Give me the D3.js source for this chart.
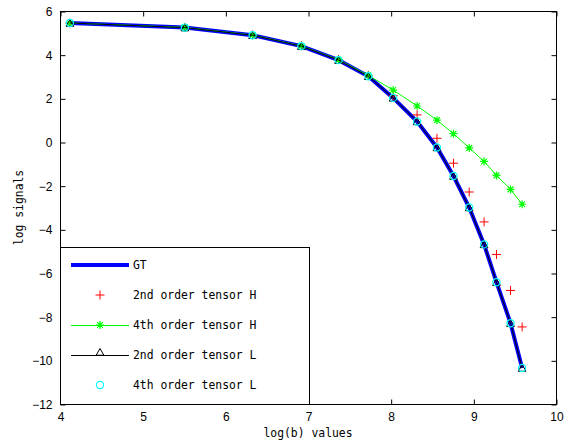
<!DOCTYPE html>
<html>
<head>
<meta charset="utf-8">
<script src="https://cdn.jsdelivr.net/npm/d3@7"></script>
<style>
  html, body { margin: 0; padding: 0; background: #fff; }
  svg { display: block; }
  .tick-label { font-family: "Liberation Sans", Arial, sans-serif; font-size: 12px; fill: #000; }
  .mono { font-family: "DejaVu Sans Mono", "Liberation Mono", monospace; font-size: 11.4px; fill: #000; }
</style>
</head>
<body>
<svg id="chart" width="566" height="448"></svg>
<script>
// log(b) sample positions
const logB = [4.12, 5.51, 6.33, 6.92, 7.37, 7.73, 8.03, 8.32, 8.56, 8.76, 8.95, 9.13, 9.28, 9.45, 9.59];

// log signal for each model
const gt      = [5.45, 5.24, 4.89, 4.39, 3.75, 3.01, 2.02, 0.94, -0.25, -1.56, -3.00, -4.69, -6.42, -8.30, -10.35];
const h2nd    = [5.45, 5.25, 4.91, 4.41, 3.78, 3.05, 2.12, 1.24, 0.17, -0.97, -2.29, -3.66, -5.15, -6.80, -8.47];
const h4th    = [5.45, 5.25, 4.90, 4.40, 3.77, 3.05, 2.38, 1.65, 1.00, 0.38, -0.27, -0.89, -1.53, -2.17, -2.85];
const l2nd    = [5.45, 5.24, 4.89, 4.39, 3.75, 3.01, 2.02, 0.94, -0.25, -1.56, -3.00, -4.69, -6.42, -8.30, -10.35];
const l4th    = [5.45, 5.24, 4.89, 4.39, 3.75, 3.01, 2.02, 0.94, -0.25, -1.56, -3.00, -4.69, -6.42, -8.30, -10.35];

const xTicks = [4, 5, 6, 7, 8, 9, 10];
const yTicks = [-12, -10, -8, -6, -4, -2, 0, 2, 4, 6];

const legendLabels = ["GT", "2nd order tensor H", "4th order tensor H", "2nd order tensor L", "4th order tensor L"];
const xLabel = "log(b) values";
const yLabel = "log signals";

const svg = d3.select("#chart");
const pL = 60, pR = 556, pT = 11, pB = 404;

const x = d3.scaleLinear().domain([4, 10]).range([pL, pR]);
const y = d3.scaleLinear().domain([-12, 6]).range([pB, pT]);

const pts = vals => logB.map((b, i) => [b, vals[i]]);
const line = d3.line().x(d => x(d[0])).y(d => y(d[1]));

// marker shapes
const plusPath = s => `M${-s},0H${s}M0,${-s}V${s}`;
const starPath = s => {
  const d = s * 0.72;
  return `M${-s},0H${s}M0,${-s}V${s}M${-d},${-d}L${d},${d}M${-d},${d}L${d},${-d}`;
};
const triPath = d3.symbol().type(d3.symbolTriangle).size(26)();

const plot = svg.append("g");

// GT: thick blue curve
plot.append("path").datum(pts(gt))
  .attr("d", line).attr("fill", "none")
  .attr("stroke", "#0000ff").attr("stroke-width", 4);

// 2nd order tensor H: red plus markers
plot.append("g").selectAll("path").data(pts(h2nd)).join("path")
  .attr("transform", d => `translate(${x(d[0])},${y(d[1])})`)
  .attr("d", plusPath(4.5)).attr("stroke", "#ff0000").attr("stroke-width", 1).attr("fill", "none");

// 4th order tensor H: green line with star markers
plot.append("path").datum(pts(h4th))
  .attr("d", line).attr("fill", "none")
  .attr("stroke", "#00ff00").attr("stroke-width", 1);
plot.append("g").selectAll("path").data(pts(h4th)).join("path")
  .attr("transform", d => `translate(${x(d[0])},${y(d[1])})`)
  .attr("d", starPath(4)).attr("stroke", "#00ff00").attr("stroke-width", 1.2).attr("fill", "none");

// 2nd order tensor L: black line with triangle markers
plot.append("path").datum(pts(l2nd))
  .attr("d", line).attr("fill", "none")
  .attr("stroke", "#000").attr("stroke-width", 1);
plot.append("g").selectAll("path").data(pts(l2nd)).join("path")
  .attr("transform", d => `translate(${x(d[0])},${y(d[1]) + 1})`)
  .attr("d", triPath).attr("stroke", "#000").attr("stroke-width", 1).attr("fill", "none");

// 4th order tensor L: cyan circles
plot.append("g").selectAll("circle").data(pts(l4th)).join("circle")
  .attr("cx", d => x(d[0])).attr("cy", d => y(d[1])).attr("r", 3.6)
  .attr("stroke", "#00ffff").attr("stroke-width", 1.2).attr("fill", "none");

// axes box with inward ticks on all four sides
const axes = svg.append("g");
axes.append("rect").attr("x", pL + 0.5).attr("y", pT + 0.5)
  .attr("width", pR - pL).attr("height", pB - pT)
  .attr("fill", "none").attr("stroke", "#000").attr("stroke-width", 1);

const tl = 5;
const bottomAxis = d3.axisBottom(x).tickValues(xTicks).tickSize(-tl).tickPadding(8).tickFormat(d3.format("d"));
const topAxis = d3.axisTop(x).tickValues(xTicks).tickSize(-tl).tickFormat("");
const leftAxis = d3.axisLeft(y).tickValues(yTicks).tickSize(-tl).tickPadding(8).tickFormat(d3.format("d"));
const rightAxis = d3.axisRight(y).tickValues(yTicks).tickSize(-tl).tickFormat("");

function styleAxis(g) {
  g.select(".domain").remove();
  g.selectAll(".tick line").attr("stroke", "#000");
  g.selectAll(".tick text").attr("class", "tick-label").attr("fill", "#000").attr("font-size", null).attr("font-family", null);
}
axes.append("g").attr("transform", `translate(0.5,${pB + 0.5})`).call(bottomAxis).call(styleAxis);
axes.append("g").attr("transform", `translate(0.5,${pT + 0.5})`).call(topAxis).call(styleAxis);
axes.append("g").attr("transform", `translate(${pL + 0.5},0.5)`).call(leftAxis).call(styleAxis);
axes.append("g").attr("transform", `translate(${pR + 0.5},0.5)`).call(rightAxis).call(styleAxis);

// axis titles
svg.append("text").attr("class", "mono").attr("x", (pL + pR) / 2).attr("y", 437)
  .attr("text-anchor", "middle").text(xLabel);
svg.append("text").attr("class", "mono")
  .attr("transform", `translate(23,${(pT + pB) / 2}) rotate(-90)`)
  .attr("text-anchor", "middle").text(yLabel);

// legend
const lg = svg.append("g");
const lgLeft = pL, lgTop = 247, lgRight = 309;
lg.append("rect").attr("x", lgLeft + 0.5).attr("y", lgTop + 0.5)
  .attr("width", lgRight - lgLeft).attr("height", pB - lgTop)
  .attr("fill", "#fff").attr("stroke", "#000").attr("stroke-width", 1);

const rowY = i => 265 + i * 30;
const sx0 = 71, sx1 = 129, mx = 100;
legendLabels.forEach((label, i) => {
  const yy = rowY(i);
  const g = lg.append("g");
  if (i === 0) {
    g.append("line").attr("x1", sx0).attr("x2", sx1).attr("y1", yy).attr("y2", yy)
      .attr("stroke", "#0000ff").attr("stroke-width", 4);
  } else if (i === 1) {
    g.append("path").attr("transform", `translate(${mx},${yy})`).attr("d", plusPath(4.5))
      .attr("stroke", "#ff0000").attr("fill", "none");
  } else if (i === 2) {
    g.append("line").attr("x1", sx0).attr("x2", sx1).attr("y1", yy + 0.5).attr("y2", yy + 0.5)
      .attr("stroke", "#00ff00").attr("stroke-width", 1);
    g.append("path").attr("transform", `translate(${mx},${yy})`).attr("d", starPath(4))
      .attr("stroke", "#00ff00").attr("stroke-width", 1.2).attr("fill", "none");
  } else if (i === 3) {
    g.append("line").attr("x1", sx0).attr("x2", sx1).attr("y1", yy + 0.5).attr("y2", yy + 0.5)
      .attr("stroke", "#000").attr("stroke-width", 1);
    g.append("path").attr("transform", `translate(${mx},${yy - 2})`).attr("d", triPath)
      .attr("stroke", "#000").attr("fill", "none");
  } else {
    g.append("circle").attr("cx", mx).attr("cy", yy).attr("r", 3.6)
      .attr("stroke", "#00ffff").attr("stroke-width", 1.2).attr("fill", "none");
  }
  g.append("text").attr("class", "mono").attr("x", 133).attr("y", yy + 4).text(label);
});
</script>
</body>
</html>
